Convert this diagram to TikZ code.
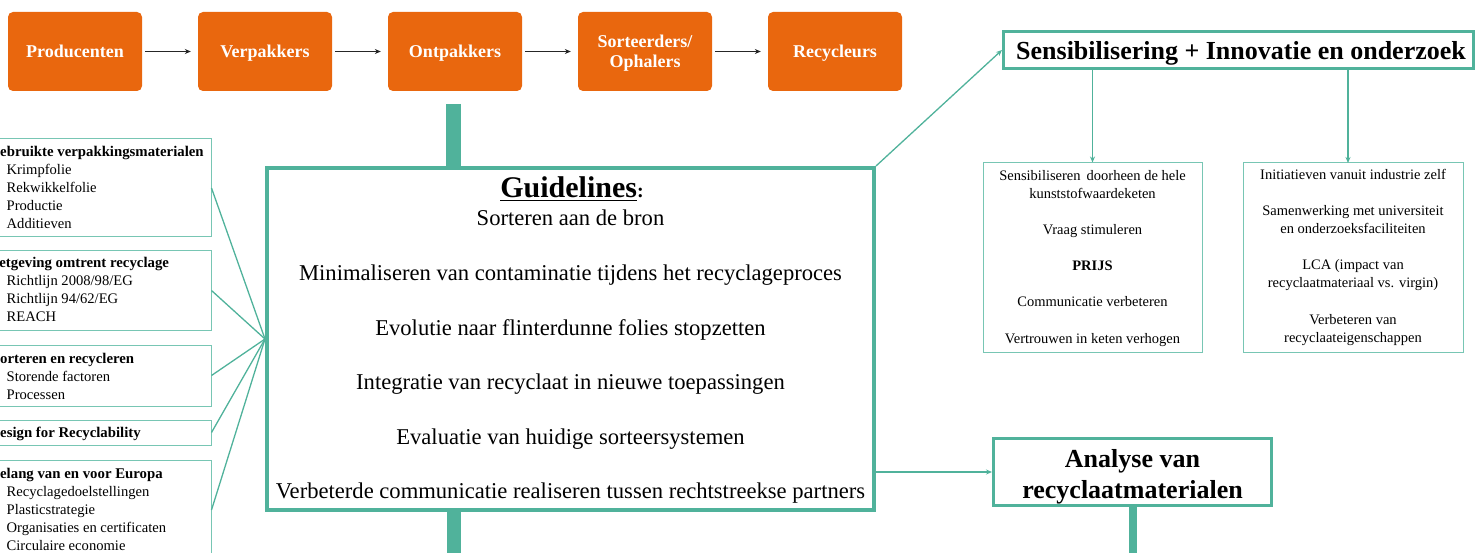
\documentclass[tikz,border=0pt]{standalone}
\usepackage{fontspec}
\setmainfont{Liberation Serif}
\usetikzlibrary{arrows.meta}
\definecolor{org}{RGB}{233,103,14}
\definecolor{tl}{RGB}{80,178,155}
\definecolor{tlL}{RGB}{120,198,180}
\begin{document}
\begin{tikzpicture}[x=1pt,y=-1pt,
  obox/.style={fill=org, rounded corners=5pt, minimum width=134pt, minimum height=79pt, inner sep=0pt, text=white, font=\fontsize{18}{20}\selectfont\bfseries, align=center},
  oone/.style={obox, text height=12.6pt, text depth=1pt},
  blk/.style={-{Stealth[length=6pt,width=5pt]}, line width=0.7pt, black!85, shorten <=3pt, shorten >=7pt},
  lbox/.style={draw=tlL, line width=1pt, inner sep=0pt},
  rbox/.style={draw=tlL, line width=1pt, inner sep=0pt},
  tbox/.style={draw=tl, line width=3pt, inner sep=0pt},
  gbox/.style={draw=tl, line width=4pt, inner sep=0pt},
  lhead/.style={anchor=base west, inner sep=0pt, font=\fontsize{14.8}{17}\selectfont\bfseries},
  litem/.style={anchor=base west, inner sep=0pt, font=\fontsize{14.6}{17}\selectfont},
  rtxt/.style={anchor=base, inner sep=0pt, font=\fontsize{14.5}{17}\selectfont},
  gtxt/.style={anchor=base, inner sep=0pt, font=\fontsize{22.6}{26}\selectfont},
  btxt/.style={anchor=base, inner sep=0pt, font=\fontsize{26}{30}\selectfont\bfseries},
  tline/.style={draw=tl, line width=1.3pt},
  tarr/.style={draw=tl, line width=1.3pt, -{Stealth[length=6pt,width=5pt]}},
  bar/.style={draw=tl}
]
\useasboundingbox (0,0) rectangle (1475,553);

% top chain
\node[oone] (prod) at (75,51.5) {Producenten};
\node[oone] (verp) at (265,51.5) {Verpakkers};
\node[oone] (ontp) at (455,51.5) {Ontpakkers};
\node[obox, text depth=0pt] (sort) at (645,51.5) {Sorteerders/\\Ophalers};
\node[oone] (recy) at (835,51.5) {Recycleurs};
\draw[blk] (prod) -- (verp);
\draw[blk] (verp) -- (ontp);
\draw[blk] (ontp) -- (sort);
\draw[blk] (sort) -- (recy);

% guidelines box
\node[gbox, minimum width=607pt, minimum height=342pt] (gl) at (570.5,339) {};
\node[inner sep=0pt, anchor=base, font=\fontsize{30}{30}\selectfont\bfseries] (gtitle) at (572,198) {\underline{Guidelines}{\fontsize{20}{20}\selectfont:}};
\foreach \y/\t [count=\i] in {226/{Sorteren aan de bron},
  281/{Minimaliseren van contaminatie tijdens het recyclageproces},
  335/{Evolutie naar flinterdunne folies stopzetten},
  389/{Integratie van recyclaat in nieuwe toepassingen},
  444/{Evaluatie van huidige sorteersystemen},
  498/{Verbeterde communicatie realiseren tussen rechtstreekse partners}}
  \node[gtxt] (g\i) at (570.5,\y) {\t};

% thick bars
\coordinate (ontpb) at (453.5,104);
\draw[bar, line width=15pt] (ontpb) -- (ontpb |- gl.north);
\coordinate (glb) at (454,512);
\draw[bar, line width=14pt] (glb) -- (454,560);

% left boxes
\node[lbox, minimum width=241pt, minimum height=98pt] (b1) at (90.5,188) {};
\node[lbox, minimum width=241pt, minimum height=79pt] (b2) at (90.5,290.5) {};
\node[lbox, minimum width=241pt, minimum height=61pt] (b3) at (90.5,375.5) {};
\node[lbox, minimum width=241pt, minimum height=25pt] (b4) at (90.5,432.5) {};
\node[lbox, minimum width=241pt, minimum height=100pt] (b5) at (90.5,510) {};

\node[lhead] (h1) at (-11.5,157) {Gebruikte verpakkingsmaterialen};
\foreach \y/\t [count=\i] in {175/Krimpfolie,193/Rekwikkelfolie,211/Productie,229/Additieven}
  \node[litem] (i1\i) at (6.5,\y) {\t};
\node[lhead] (h2) at (-14.8,268) {Wetgeving omtrent recyclage};
\foreach \y/\t [count=\i] in {286/{Richtlijn 2008/98/EG},304/{Richtlijn 94/62/EG},322/REACH}
  \node[litem] (i2\i) at (6.5,\y) {\t};
\node[lhead] (h3) at (-8.2,363) {Sorteren en recycleren};
\foreach \y/\t [count=\i] in {381/{Storende factoren},399/Processen}
  \node[litem] (i3\i) at (6.5,\y) {\t};
\node[lhead] (h4) at (-10.7,437) {Design for Recyclability};
\node[lhead] (h5) at (-9.9,478) {Belang van en voor Europa};
\foreach \y/\t [count=\i] in {496/Recyclagedoelstellingen,514/Plasticstrategie,532/{Organisaties en certificaten},550/{Circulaire economie}}
  \node[litem] (i5\i) at (6.5,\y) {\t};

\coordinate (conv) at (265,339);
\draw[tline] (b1.east) -- (conv);
\draw[tline] (b2.east) -- (conv);
\draw[tline] (b3.east) -- (conv);
\draw[tline] (b4.east) -- (conv);
\draw[tline] (b5.east) -- (conv);

% Sensibilisering
\node[tbox, minimum width=470pt, minimum height=37pt] (sens) at (1238.5,50) {};
\node[btxt] (senst) at (1241,60) {Sensibilisering + Innovatie en onderzoek};
\draw[tarr] (gl.north east) -- (sens.west);

\node[rbox, minimum width=219pt, minimum height=189pt] (ra) at (1092.5,257.5) {};
\node[rbox, minimum width=220pt, minimum height=189pt] (rb) at (1353,257.5) {};
\draw[tarr] (ra.north |- sens.south) -- (ra.north);
\coordinate (rbt) at (1348,163);
\draw[tarr] (rbt |- sens.south) -- (rbt);

\foreach \y/\t [count=\i] in {181/{Sensibiliseren\, doorheen de hele},199/kunststofwaardeketen,235/{Vraag stimuleren},271/{\textbf{PRIJS}},307/{Communicatie verbeteren},343/{Vertrouwen in keten verhogen}}
  \node[rtxt] (ta\i) at (1092.5,\y) {\t};
\foreach \y/\t [count=\i] in {180/{Initiatieven vanuit industrie zelf},216/{Samenwerking met universiteit},234/{en onderzoeksfaciliteiten},270/{LCA (impact van},288/{recyclaatmateriaal vs. virgin)},324/{Verbeteren van},342/recyclaateigenschappen}
  \node[rtxt] (tb\i) at (1353,\y) {\t};

% Analyse
\node[tbox, minimum width=278pt, minimum height=67pt] (an) at (1132.5,472) {};
\node[btxt] (an1) at (1132.5,467) {Analyse van};
\node[btxt] (an2) at (1132.5,498) {recyclaatmaterialen};
\draw[tarr] (an.west -| gl.east) -- (an.west);
\draw[bar, line width=8pt] (an.south) -- (1132.5,560);
\end{tikzpicture}
\end{document}
